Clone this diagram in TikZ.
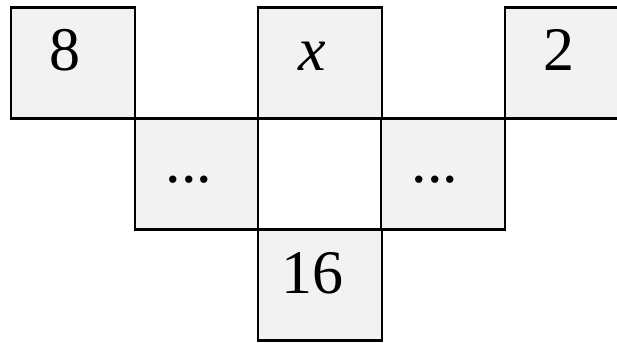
\documentclass[tikz,border=0pt]{standalone}
\usepackage{fontspec}
\setmainfont{Liberation Serif}
\definecolor{cellgray}{HTML}{F2F2F2}
\tikzset{
  cell/.style={draw, line width=2.2pt, minimum width=124pt, minimum height=111pt,
    inner sep=0pt, text height=16pt, text depth=0pt,
    font=\fontsize{62}{62}\selectfont},
  graycell/.style={cell, fill=cellgray},
  whitecell/.style={cell, fill=white}
}
\newcommand{\cellnum}[1]{#1\kern16pt}
\begin{document}
\begin{tikzpicture}[x=1pt, y=-1pt]
    \useasboundingbox (0,0) rectangle (617,342);

    % Top row
    \node[graycell] (c8) at (73, 63) {\cellnum{8}};
    \node[graycell] (cx) at (320, 63) {\cellnum{\textit{x}}};
    \node[graycell] (c2) at (567, 63) {\cellnum{2}};

    % Middle row
    \node[graycell] (dotsL) at (197, 174) {\cellnum{...}};
    \node[whitecell] (mid) at (320, 174) {};
    \node[graycell] (dotsR) at (443, 174) {\cellnum{...}};

    % Bottom row
    \node[graycell] (c16) at (320, 285) {\cellnum{16}};
\end{tikzpicture}
\end{document}
